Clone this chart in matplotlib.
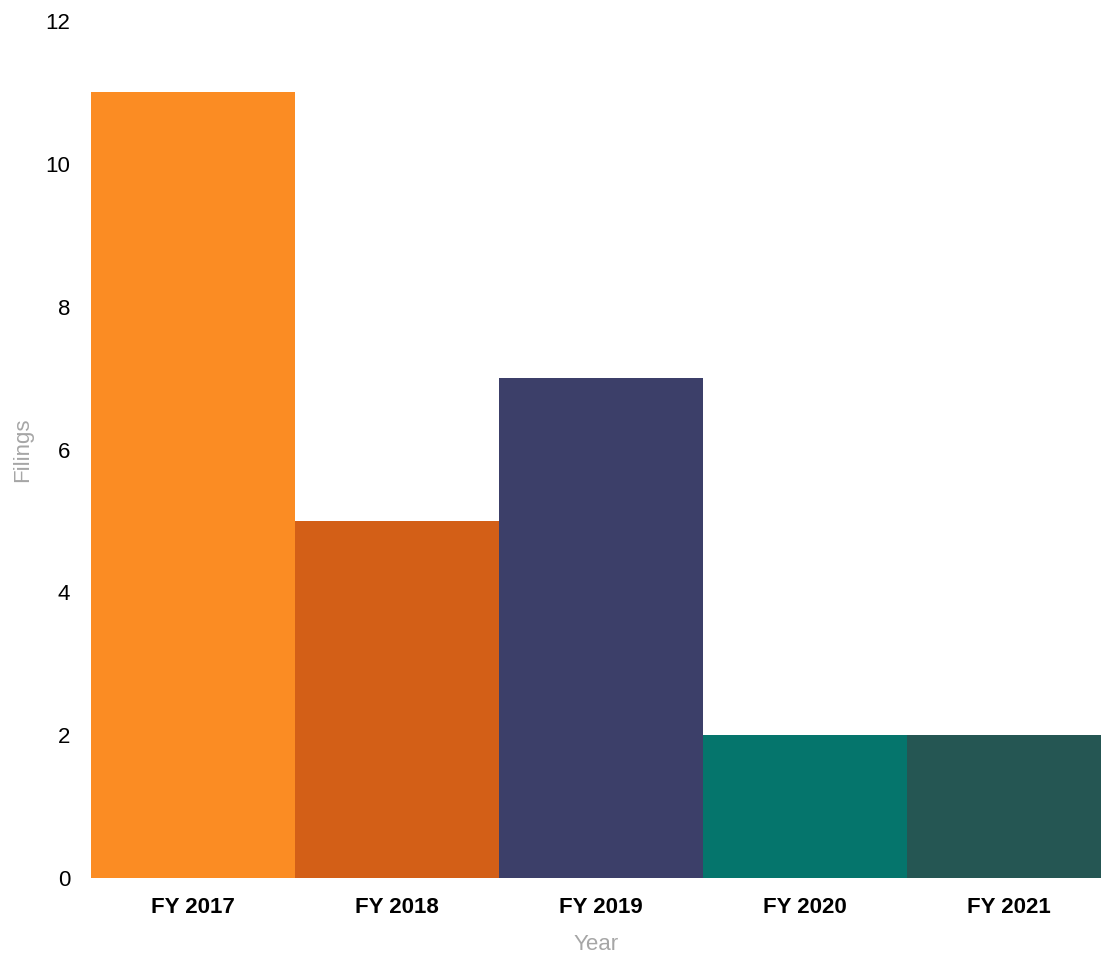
import matplotlib
matplotlib.use("Agg")
import matplotlib.pyplot as plt

years = ["FY 2017", "FY 2018", "FY 2019", "FY 2020", "FY 2021"]
filings = [11, 5, 7, 2, 2]
colors = ["#FB8C23", "#D35F17", "#3C3F69", "#05756C", "#255653"]

plt.rcParams["font.family"] = ["Liberation Sans", "DejaVu Sans"]

fig = plt.figure(figsize=(11.01, 9.55), dpi=100)
ax = fig.add_axes([0.0827, 0.0806, 0.9173, 0.8974])

ax.bar(range(len(years)), filings, width=1.0, color=colors, zorder=2)
ax.axhline(0, color="#D9D9D9", lw=1.2, zorder=1)

ax.set_xlim(-0.5, 4.45)
ax.set_ylim(0, 12)
ax.set_yticks(range(0, 13, 2))
ax.set_xticks(range(len(years)))
ax.set_xticklabels(years, fontweight="bold", fontsize=16.5)
ax.tick_params(axis="both", length=0, labelsize=16, colors="black")
ax.tick_params(axis="y", pad=15)
ax.tick_params(axis="x", pad=14)

for s in ax.spines.values():
    s.set_visible(False)

ax.set_xlabel("Year", color="#A6A6A6", fontsize=16, labelpad=11)
ax.set_ylabel("Filings", color="#A6A6A6", fontsize=16)
ax.yaxis.set_label_coords(-0.057, 0.5)

fig.savefig("out.png", dpi=100)
